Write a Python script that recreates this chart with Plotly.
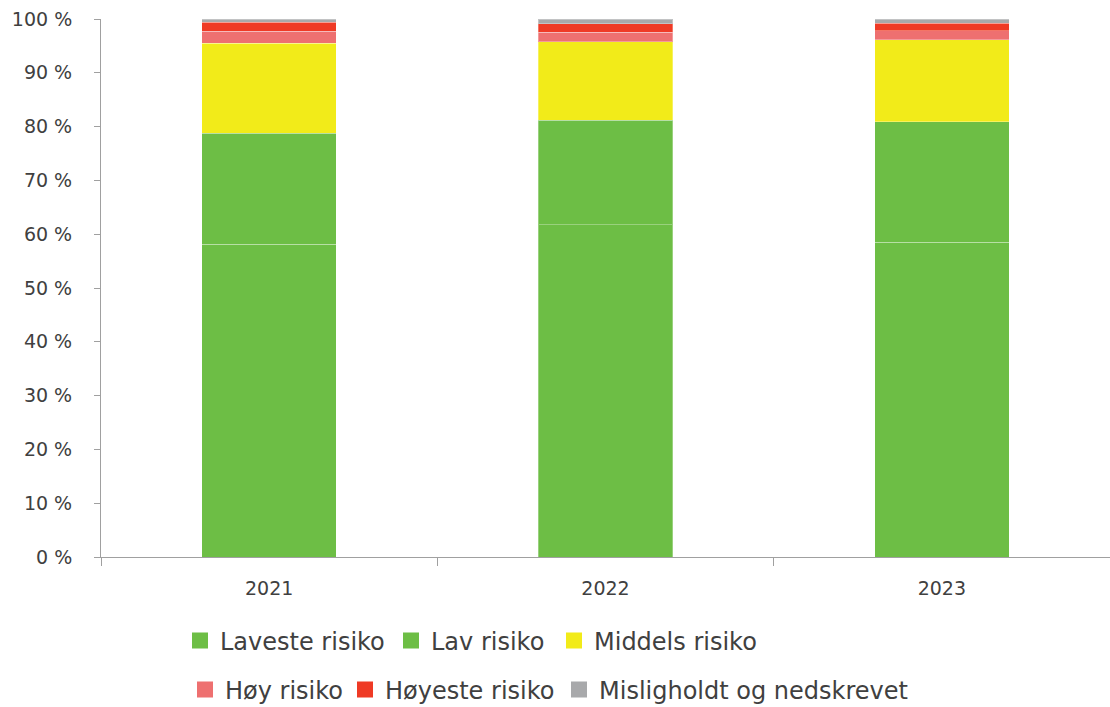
import plotly.graph_objects as go

years = ["2021", "2022", "2023"]
laveste = [58.1, 61.8, 58.5]
lav = [20.7, 19.4, 22.4]
middels = [16.7, 14.6, 15.2]
hoy = [2.2, 1.7, 1.7]
hoyeste = [1.7, 1.6, 1.4]
mislighold = [0.6, 0.9, 0.8]

names = ["Laveste risiko", "Lav risiko", "Middels risiko",
         "Høy risiko", "Høyeste risiko", "Misligholdt og nedskrevet"]
series = [laveste, lav, middels, hoy, hoyeste, mislighold]
colors = ["#6dbe45", "#6dbe45", "#f2eb19", "#ee7070", "#ef3a25", "#a8a9ab"]
ticks = [0, 10, 20, 30, 40, 50, 60, 70, 80, 90, 100]

FONT = "DejaVu Sans"
TXT = "#404040"

# legend placement (pixel x of each legend box, row y)
leg_x = [180, 391, 554, 185, 345, 559]
leg_y = [641, 641, 641, 690, 690, 690]

fig = go.Figure()
for i, (n, s, c) in enumerate(zip(names, series, colors)):
    fig.add_trace(go.Bar(
        x=years, y=s, name=n, marker=dict(color=c, line=dict(color="rgba(255,255,255,0.3)", width=1)),
        showlegend=False, legendgroup=n,
    ))
legends = {}
for i, (n, c) in enumerate(zip(names, colors)):
    key = "legend" if i == 0 else f"legend{i + 1}"
    fig.add_trace(go.Scatter(
        x=[None], y=[None], mode="markers", name=n, legendgroup=n,
        marker=dict(symbol="square", size=20, color=c),
        legend=key,
    ))
    legends[key] = dict(orientation="h", xref="container", yref="container",
                        x=leg_x[i] / 1110, xanchor="left", y=1 - leg_y[i] / 707, yanchor="middle",
                        font=dict(size=24, color=TXT), itemwidth=30,
                        bgcolor="rgba(0,0,0,0)")

fig.update_layout(
    barmode="stack",
    bargap=0.6,
    width=1110, height=707,
    margin=dict(l=101, r=0, t=19, b=150, autoexpand=False),
    plot_bgcolor="white", paper_bgcolor="white",
    font=dict(family=FONT, size=19, color=TXT),
    **legends,
)
fig.update_xaxes(
    type="category", showline=True, linecolor="#a0a0a0", linewidth=1,
    ticks="outside", tickson="boundaries", ticklen=8, tickcolor="#a0a0a0",
    showgrid=False, tickfont=dict(size=19, color=TXT), range=[-0.5, 2.5],
    ticklabelstandoff=14,
)
fig.update_yaxes(
    range=[0, 100], tickvals=ticks, ticktext=[f"{t} %" for t in ticks],
    showline=True, linecolor="#a0a0a0", linewidth=1,
    ticks="outside", ticklen=6, tickcolor="#a0a0a0",
    showgrid=False, zeroline=False, tickfont=dict(size=19, color=TXT),
    ticklabelstandoff=18,
)

fig.write_html("out.html")
